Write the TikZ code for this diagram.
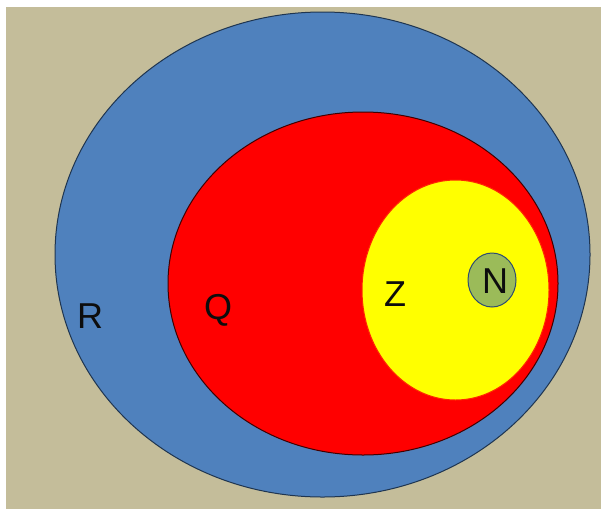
\documentclass[tikz,border=0pt]{standalone}
\usepackage{fontspec}
\setmainfont{Liberation Sans}
\definecolor{bg}{HTML}{C4BD9A}
\definecolor{rblue}{HTML}{4F81BD}
\definecolor{qred}{HTML}{FF0000}
\definecolor{zyel}{HTML}{FFFF00}
\definecolor{ngreen}{HTML}{9BBB59}
\definecolor{edge}{HTML}{1F3550}
\tikzset{
  setlabel/.style={font=\fontsize{36}{36}\selectfont, text=black!95, inner sep=0pt, anchor=center},
  setshape/.style={line width=1pt},
}
\begin{document}
\begin{tikzpicture}[x=1pt,y=-1pt]
\useasboundingbox (0,0) rectangle (601,509);
\fill[white] (0,0) rectangle (601,509);
\fill[bg] (6,7) rectangle (601,509);
% R
\draw[setshape, fill=rblue, draw=edge] (322.5,254.5) ellipse [x radius=267.5, y radius=242.5];
% Q
\draw[setshape, fill=qred, draw=black!75!red] (363,283.5) ellipse [x radius=195, y radius=171.5];
% Z
\draw[setshape, fill=zyel, draw=red!70!orange] (455.5,290) ellipse [x radius=93.5, y radius=110];
% N
\draw[setshape, fill=ngreen, draw=rblue!60!black] (492,280) ellipse [x radius=24, y radius=27];
\node[setlabel] (R) at (90,316) {R};
\node[setlabel] (Q) at (218,310) {Q};
\node[setlabel] (Z) at (395,294) {Z};
\node[setlabel] (N) at (495,281) {N};
\end{tikzpicture}
\end{document}
